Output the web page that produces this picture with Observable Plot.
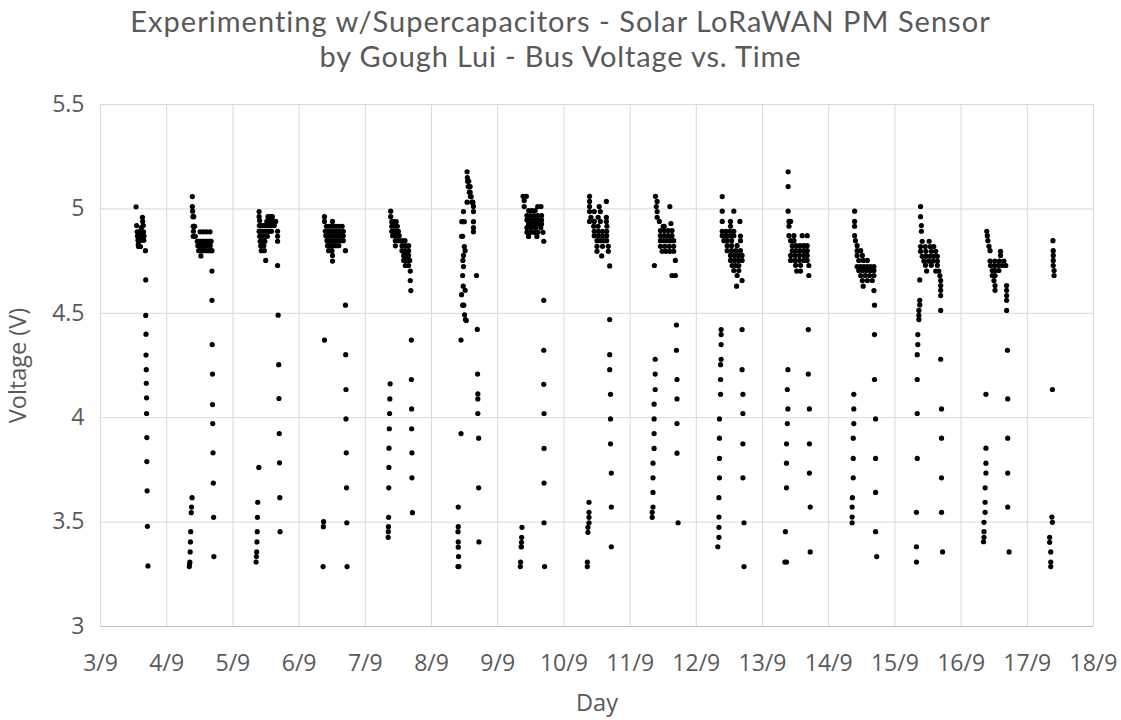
<!DOCTYPE html>
<html>
<head>
<meta charset="utf-8">
<script src="https://cdn.jsdelivr.net/npm/d3@7"></script>
<script src="https://cdn.jsdelivr.net/npm/@observablehq/plot@0.6"></script>
<style>
  html, body { margin: 0; padding: 0; background: #ffffff; }
  #title { width: 1121px; height: 80px; position: relative; font-family: Lato, "Open Sans", sans-serif; color: #595959; }
  #title div { position: absolute; left: 0; width: 1121px; text-align: center; font-size: 29px; height: 35px; line-height: 35px; white-space: nowrap; }
  #chart svg { display: block; }
</style>
</head>
<body>
<div id="title"><div id="t1" style="top:3px">Experimenting w/Supercapacitors - Solar LoRaWAN PM Sensor</div><div id="t2" style="top:38px">by Gough Lui - Bus Voltage vs. Time</div></div>
<div id="chart"></div>
<script>
// Tick labels
const dayTicks = [3,4,5,6,7,8,9,10,11,12,13,14,15,16,17,18];
const voltTicks = [3, 3.5, 4, 4.5, 5, 5.5];

// Readings per day: [hour of day, bus voltage (V)]
const sep03 = [[12.9,5.01],[13.1,4.92],[13.3,4.89],[13.4,4.87],[13.6,4.85],[13.7,4.83],[13.8,4.82],[14.0,4.87],[14.1,4.89],[14.2,4.85],[14.4,4.89],[14.5,4.82],[14.6,4.87],[14.8,4.91],[14.9,4.85],[15.1,4.89],[15.2,4.96],[15.3,4.94],[15.5,4.92],[15.6,4.89],[15.7,4.85],[15.8,4.87],[16.3,4.80],[16.4,4.66],[16.4,4.49],[16.5,4.40],[16.5,4.30],[16.6,4.23],[16.6,4.165],[16.7,4.095],[16.7,4.02],[16.8,3.905],[16.8,3.79],[16.9,3.65],[17.0,3.48],[17.2,3.29]];
const sep04 = [[8.2,3.287],[8.3,3.30],[8.4,3.309],[8.5,3.357],[8.6,3.405],[8.7,3.454],[8.9,3.545],[9.0,3.572],[9.2,3.617],[9.3,5.059],[9.3,5.011],[9.4,4.989],[9.5,4.963],[9.8,4.963],[9.6,4.917],[9.9,4.917],[10.1,4.917],[9.7,4.893],[9.6,4.869],[10.0,4.869],[10.4,4.869],[11.1,4.845],[11.6,4.845],[12.1,4.845],[12.6,4.845],[13.1,4.845],[13.6,4.845],[14.1,4.845],[14.6,4.845],[15.1,4.845],[15.6,4.845],[16.1,4.845],[11.3,4.824],[11.8,4.824],[12.3,4.824],[12.8,4.824],[13.3,4.824],[13.8,4.824],[14.3,4.824],[14.8,4.824],[15.3,4.824],[15.8,4.824],[11.6,4.80],[12.2,4.80],[12.8,4.80],[13.6,4.80],[14.6,4.80],[15.6,4.80],[12.4,4.775],[12.1,4.89],[13.3,4.89],[14.5,4.89],[15.7,4.89],[16.4,4.80],[16.4,4.702],[16.4,4.562],[16.5,4.35],[16.6,4.209],[16.6,4.063],[16.7,3.972],[16.8,3.832],[16.9,3.687],[17.0,3.523],[17.1,3.335]];
const sep05 = [[8.4,3.309],[8.5,3.335],[8.6,3.357],[8.7,3.405],[8.8,3.454],[8.9,3.523],[9.0,3.595],[9.4,3.762],[9.5,4.987],[9.5,4.963],[9.7,4.944],[9.6,4.92],[9.5,4.893],[9.7,4.869],[9.9,4.845],[10.1,4.824],[10.3,4.80],[11.9,4.753],[12.7,4.963],[13.5,4.963],[14.3,4.963],[12.3,4.94],[13.1,4.94],[13.9,4.94],[14.7,4.94],[15.5,4.94],[10.2,4.92],[11.0,4.92],[11.8,4.92],[12.6,4.92],[13.4,4.92],[14.2,4.92],[15.0,4.92],[10.0,4.893],[10.8,4.893],[11.6,4.893],[12.4,4.893],[13.2,4.893],[14.0,4.893],[10.3,4.869],[11.1,4.869],[11.9,4.869],[12.5,4.869],[10.8,4.845],[11.6,4.845],[11.2,4.824],[11.4,4.80],[16.2,4.893],[16.2,4.869],[16.2,4.845],[16.2,4.729],[16.4,4.491],[16.6,4.254],[16.7,4.092],[16.8,3.924],[16.9,3.784],[17.0,3.617],[17.1,3.454]];
const sep06 = [[8.7,3.287],[8.8,3.478],[8.9,3.502],[9.2,4.372],[9.2,4.963],[9.2,4.94],[12.1,4.94],[9.9,4.917],[11.0,4.917],[12.1,4.917],[13.3,4.917],[14.4,4.917],[15.6,4.917],[9.5,4.893],[10.5,4.893],[11.6,4.893],[12.6,4.893],[13.6,4.893],[14.7,4.893],[16.0,4.893],[9.7,4.872],[10.8,4.872],[11.8,4.872],[12.9,4.872],[13.9,4.872],[15.0,4.872],[16.0,4.872],[10.1,4.848],[11.1,4.848],[12.1,4.848],[13.1,4.848],[14.1,4.848],[15.1,4.848],[16.0,4.848],[10.3,4.824],[11.3,4.824],[12.3,4.824],[13.3,4.824],[14.4,4.824],[10.7,4.80],[11.9,4.80],[16.8,4.80],[12.1,4.777],[12.1,4.75],[16.8,4.539],[16.9,4.302],[17.0,4.135],[17.0,3.994],[17.1,3.832],[17.2,3.664],[17.3,3.497],[17.4,3.287]];
const sep07 = [[8.3,3.427],[8.35,3.454],[8.4,3.478],[8.45,3.523],[8.5,3.664],[8.55,3.762],[8.6,3.854],[8.7,3.947],[8.8,4.02],[8.9,4.09],[9.0,4.162],[9.2,4.989],[9.2,4.963],[9.6,4.939],[10.4,4.939],[11.2,4.939],[9.6,4.917],[10.6,4.917],[11.6,4.917],[9.6,4.893],[10.4,4.893],[11.2,4.893],[12.0,4.893],[9.9,4.872],[10.7,4.872],[11.5,4.872],[12.3,4.872],[10.9,4.848],[12.1,4.848],[13.3,4.848],[14.4,4.848],[10.9,4.823],[13.3,4.824],[14.5,4.824],[15.7,4.824],[13.3,4.80],[14.5,4.80],[15.7,4.80],[13.9,4.777],[14.9,4.777],[15.7,4.777],[13.9,4.753],[15.0,4.753],[16.1,4.753],[14.5,4.729],[15.7,4.729],[16.3,4.702],[16.3,4.657],[16.5,4.609],[16.7,4.372],[16.7,4.183],[16.8,4.042],[16.8,3.947],[16.9,3.832],[16.9,3.712],[17.1,3.545]];
const sep08 = [[9.6,3.287],[9.9,3.287],[9.8,3.335],[9.7,3.38],[9.7,3.405],[9.6,3.454],[9.7,3.478],[9.7,3.572],[10.7,3.924],[10.7,4.372],[12.6,4.466],[12.9,5.178],[13.0,5.15],[13.1,5.132],[13.5,5.132],[13.3,5.107],[13.7,5.107],[14.0,5.107],[13.7,5.08],[14.0,5.08],[14.1,5.059],[14.4,5.059],[14.6,5.032],[15.0,5.032],[12.9,5.032],[11.6,4.987],[15.2,5.012],[15.2,4.987],[11.0,4.939],[11.9,4.939],[15.2,4.939],[15.2,4.91],[15.2,4.89],[10.9,4.869],[11.3,4.869],[11.9,4.82],[12.2,4.80],[11.6,4.777],[11.4,4.753],[11.6,4.724],[11.3,4.681],[16.3,4.681],[11.5,4.63],[12.2,4.61],[10.9,4.589],[11.3,4.539],[11.7,4.539],[12.0,4.493],[12.3,4.47],[16.6,4.423],[16.7,4.209],[16.8,4.114],[16.8,4.09],[16.8,4.02],[17.1,3.902],[17.1,3.664],[17.2,3.405]];
const sep09 = [[8.2,3.287],[8.3,3.309],[8.5,3.382],[8.6,3.382],[8.6,3.403],[8.7,3.427],[8.8,3.475],[9.2,5.06],[10.4,5.06],[9.6,5.04],[9.6,5.011],[11.2,4.992],[12.4,4.992],[13.6,4.992],[14.5,5.011],[15.7,5.011],[10.6,4.968],[11.9,4.968],[13.2,4.968],[14.5,4.968],[15.9,4.968],[10.6,4.947],[11.9,4.947],[13.2,4.947],[14.5,4.947],[15.9,4.947],[11.2,4.928],[12.4,4.928],[13.6,4.928],[14.8,4.928],[15.9,4.928],[10.6,4.91],[12.2,4.91],[13.8,4.91],[15.6,4.91],[10.6,4.888],[11.9,4.888],[13.2,4.888],[14.5,4.888],[16.4,4.888],[11.2,4.868],[14.2,4.868],[16.7,4.845],[16.7,4.562],[16.7,4.323],[16.7,4.16],[16.8,4.02],[16.8,3.853],[16.8,3.687],[16.8,3.497],[17.0,3.287]];
const sep10 = [[9.1,3.595],[9.1,3.547],[9.1,3.523],[9.1,3.497],[8.7,3.475],[8.7,3.451],[8.5,3.309],[8.5,3.287],[9.3,5.06],[9.3,5.036],[15.4,5.036],[9.3,5.011],[12.8,5.011],[9.3,4.987],[11.0,4.987],[13.2,4.987],[9.8,4.96],[12.4,4.96],[9.3,4.94],[11.0,4.94],[13.2,4.94],[15.4,4.96],[15.4,4.94],[15.6,4.917],[10.8,4.917],[12.4,4.917],[11.0,4.893],[12.5,4.893],[14.0,4.893],[15.5,4.893],[11.0,4.872],[12.5,4.872],[14.0,4.872],[15.5,4.872],[12.0,4.848],[13.2,4.848],[14.4,4.848],[15.5,4.848],[12.0,4.821],[14.0,4.821],[16.1,4.821],[12.0,4.797],[16.1,4.797],[13.7,4.775],[16.6,4.727],[16.6,4.47],[16.6,4.302],[16.6,4.23],[16.9,4.112],[16.9,3.994],[16.9,3.875],[17.2,3.735],[17.2,3.572],[17.2,3.382]];
const sep11 = [[9.1,4.28],[9.1,4.209],[9.1,4.135],[8.7,4.065],[8.7,3.994],[8.7,3.924],[8.7,3.853],[8.3,3.782],[8.3,3.712],[8.3,3.642],[8.3,3.572],[8.0,3.547],[8.0,3.523],[9.2,5.06],[9.8,5.036],[9.5,5.011],[14.4,5.011],[9.8,4.987],[9.8,4.96],[10.6,4.94],[12.0,4.917],[12.4,4.917],[14.8,4.93],[11.0,4.896],[12.4,4.896],[13.8,4.896],[15.2,4.896],[11.0,4.872],[12.4,4.872],[13.8,4.872],[15.2,4.872],[11.0,4.848],[12.2,4.848],[13.4,4.848],[14.6,4.848],[15.8,4.848],[11.0,4.821],[12.6,4.821],[14.2,4.821],[15.8,4.821],[11.6,4.797],[13.0,4.797],[14.4,4.797],[15.8,4.797],[8.8,4.729],[16.4,4.753],[15.2,4.681],[16.4,4.681],[16.8,4.444],[16.8,4.323],[17.0,4.183],[17.0,4.09],[17.0,3.972],[17.0,3.83],[17.4,3.497]];
const sep12 = [[7.8,3.382],[8.2,3.427],[8.2,3.475],[8.2,3.524],[8.2,3.617],[8.4,3.712],[8.4,3.805],[8.4,3.902],[8.4,3.994],[8.8,4.112],[8.8,4.183],[8.8,4.254],[9.0,4.28],[9.0,4.35],[9.0,4.398],[9.0,4.422],[9.4,5.059],[9.4,4.989],[13.6,4.989],[9.4,4.94],[12.4,4.94],[15.8,4.94],[12.4,4.917],[9.4,4.893],[10.8,4.893],[12.2,4.893],[13.6,4.893],[9.4,4.872],[10.8,4.872],[12.2,4.872],[13.6,4.872],[16.0,4.87],[10.0,4.848],[11.2,4.848],[12.8,4.848],[16.0,4.848],[11.2,4.824],[12.8,4.824],[14.8,4.824],[11.2,4.80],[12.8,4.80],[14.4,4.80],[16.0,4.80],[12.4,4.777],[13.8,4.777],[15.2,4.777],[16.6,4.777],[12.4,4.753],[13.8,4.753],[15.2,4.753],[16.6,4.753],[13.0,4.729],[14.2,4.729],[15.4,4.729],[13.6,4.705],[15.4,4.705],[14.8,4.681],[16.6,4.657],[14.6,4.63],[16.6,4.422],[16.6,4.23],[16.9,4.112],[16.9,4.02],[16.9,3.875],[16.9,3.712],[17.3,3.497],[17.3,3.287]];
const sep13 = [[8.1,3.309],[8.7,3.309],[8.3,3.454],[8.7,3.664],[8.7,3.782],[8.7,3.875],[9.0,3.972],[9.2,4.042],[9.0,4.135],[9.2,4.23],[9.3,5.178],[9.3,5.107],[9.3,4.989],[9.6,4.94],[10.2,4.94],[9.6,4.917],[9.6,4.872],[11.4,4.872],[10.2,4.848],[11.4,4.848],[14.4,4.872],[16.2,4.872],[10.8,4.824],[12.2,4.824],[13.6,4.824],[15.0,4.824],[16.2,4.824],[10.8,4.80],[12.2,4.80],[13.6,4.80],[15.0,4.80],[16.2,4.80],[10.2,4.777],[11.8,4.777],[13.4,4.777],[15.0,4.777],[16.2,4.777],[10.2,4.753],[11.8,4.753],[13.4,4.753],[15.0,4.753],[16.2,4.753],[12.0,4.73],[13.8,4.73],[16.8,4.729],[12.4,4.702],[13.8,4.702],[16.8,4.681],[16.6,4.422],[16.6,4.209],[17.0,4.042],[17.0,3.875],[17.0,3.735],[17.3,3.572],[17.3,3.357]];
const sep14 = [[8.5,3.497],[8.5,3.524],[8.5,3.572],[8.6,3.617],[8.9,3.712],[8.9,3.805],[8.9,3.902],[9.1,3.972],[9.1,4.042],[9.1,4.112],[9.4,4.989],[9.4,4.94],[9.4,4.917],[9.4,4.872],[9.7,4.848],[10.3,4.824],[10.3,4.80],[11.6,4.80],[10.3,4.777],[12.2,4.777],[10.9,4.753],[12.5,4.753],[14.0,4.753],[10.3,4.724],[11.5,4.724],[12.7,4.724],[13.9,4.724],[15.1,4.724],[16.4,4.724],[10.9,4.705],[12.3,4.705],[13.7,4.705],[15.1,4.705],[16.4,4.705],[11.6,4.681],[13.2,4.681],[14.8,4.681],[16.4,4.681],[12.2,4.657],[14.0,4.657],[15.8,4.657],[12.5,4.63],[16.4,4.609],[16.6,4.539],[16.6,4.398],[16.6,4.183],[17.0,3.994],[17.0,3.805],[17.0,3.642],[17.0,3.454],[17.4,3.335]];
const sep15 = [[7.8,3.309],[7.8,3.382],[7.8,3.547],[8.1,3.805],[8.1,4.02],[8.1,4.183],[8.1,4.302],[8.3,4.35],[8.3,4.398],[8.7,4.47],[8.7,4.49],[8.7,4.514],[9.0,4.54],[9.0,4.562],[9.0,4.66],[9.3,5.011],[9.3,4.963],[9.6,4.92],[9.6,4.893],[9.9,4.845],[12.4,4.845],[9.3,4.82],[11.0,4.82],[12.8,4.82],[14.1,4.82],[9.3,4.797],[11.2,4.797],[13.2,4.797],[14.8,4.797],[9.9,4.773],[11.3,4.773],[12.7,4.773],[14.1,4.773],[15.4,4.773],[10.5,4.75],[12.2,4.75],[13.8,4.75],[15.4,4.75],[11.1,4.73],[13.2,4.73],[15.4,4.73],[11.5,4.702],[14.8,4.702],[15.9,4.702],[16.3,4.68],[16.6,4.657],[16.6,4.633],[16.6,4.61],[16.6,4.585],[16.6,4.514],[16.6,4.28],[16.9,4.042],[16.9,3.902],[16.9,3.712],[16.9,3.547],[17.3,3.357]];
const sep16 = [[8.1,3.406],[8.3,3.427],[8.3,3.454],[8.3,3.499],[8.7,3.547],[8.7,3.595],[8.7,3.664],[9.0,3.735],[9.0,3.782],[9.0,3.854],[9.0,4.112],[9.3,4.893],[9.5,4.872],[9.7,4.848],[10.1,4.821],[10.5,4.80],[14.3,4.797],[14.3,4.777],[10.5,4.75],[12.2,4.75],[13.9,4.75],[15.5,4.75],[10.7,4.729],[12.1,4.729],[13.5,4.729],[14.9,4.729],[16.2,4.729],[11.3,4.705],[12.3,4.705],[13.7,4.705],[11.3,4.681],[12.3,4.681],[11.9,4.657],[12.3,4.633],[12.3,4.61],[16.5,4.633],[16.5,4.61],[16.5,4.585],[16.5,4.562],[16.5,4.514],[16.8,4.323],[16.9,4.09],[16.9,3.902],[16.9,3.735],[16.9,3.572],[17.4,3.357]];
const sep17 = [[8.5,3.287],[8.5,3.309],[8.5,3.357],[8.1,3.403],[8.1,3.427],[9.1,3.499],[8.9,3.524],[9.1,4.135],[9.3,4.848],[9.4,4.80],[9.4,4.777],[9.4,4.753],[9.4,4.729],[9.7,4.705],[9.7,4.681]];

const byDay = [[3, sep03],[4, sep04],[5, sep05],[6, sep06],[7, sep07],[8, sep08],[9, sep09],[10, sep10],[11, sep11],[12, sep12],[13, sep13],[14, sep14],[15, sep15],[16, sep16],[17, sep17]];
const data = byDay.flatMap(([d, pts]) => pts.map(([h, v]) => ({t: d + h / 24, v})));

// Fit the two title lines to the reference widths with letter spacing
(function fitTitle() {
  const ctx = document.createElement("canvas").getContext("2d");
  ctx.font = "29px Lato";
  [["t1", 862], ["t2", 485]].forEach(([id, target]) => {
    const el = document.getElementById(id);
    const s = el.textContent;
    const w = ctx.measureText(s).width;
    const ls = Math.max(-1, Math.min(3, (target - w) / s.length));
    el.style.letterSpacing = ls.toFixed(2) + "px";
  });
})();

const chart = Plot.plot({
  width: 1121,
  height: 640,
  marginTop: 24,
  marginBottom: 94,
  marginLeft: 100,
  marginRight: 28,
  style: {fontFamily: "Open Sans, sans-serif", fontSize: "23px", color: "#595959", background: "#ffffff"},
  x: {domain: [3, 18]},
  y: {domain: [3, 5.5]},
  marks: [
    Plot.gridX(dayTicks, {stroke: "#d9d9d9", strokeOpacity: 1}),
    Plot.gridY(voltTicks, {stroke: "#d9d9d9", strokeOpacity: 1}),
    Plot.ruleY([3], {stroke: "#bfbfbf"}),
    Plot.axisX(dayTicks, {tickFormat: d => d + "/9", tickSize: 0, tickPadding: 28, label: null, fontSize: 23}),
    Plot.axisY(voltTicks, {tickFormat: d => String(d), tickSize: 0, tickPadding: 16, label: null, fontSize: 23}),
    Plot.dot(data, {x: "t", y: "v", r: 2.6, fill: "black", stroke: null}),
    Plot.text(["Voltage (V)"], {frameAnchor: "left", dx: -82, rotate: -90, textAnchor: "middle", lineAnchor: "middle", fontSize: 23.5, fill: "#595959"}),
    Plot.text(["Day"], {frameAnchor: "bottom", dy: 77, textAnchor: "middle", lineAnchor: "middle", fontSize: 23.5, fill: "#595959"})
  ]
});
document.getElementById("chart").appendChild(chart);
</script>
</body>
</html>
